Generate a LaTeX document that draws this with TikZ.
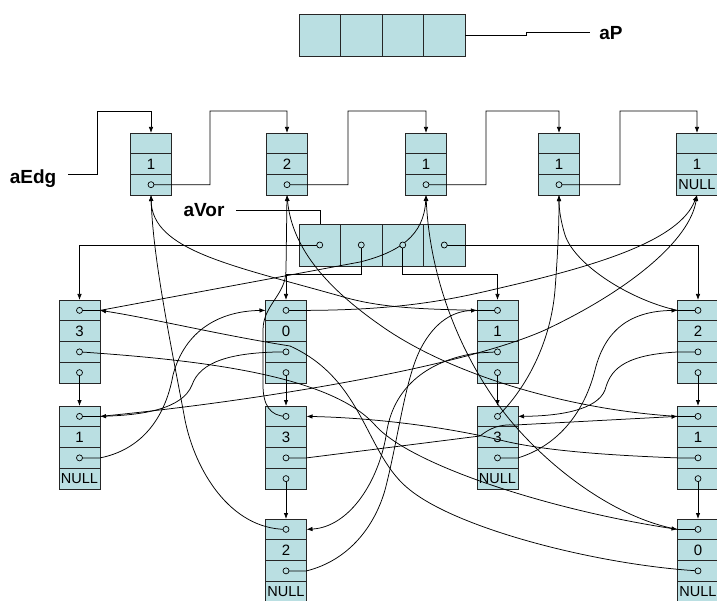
\documentclass[tikz,border=0pt]{standalone}
\usepackage{fontspec}
\setmainfont{Liberation Sans}
\usetikzlibrary{arrows.meta}
\definecolor{cellfill}{RGB}{186,223,226}
\tikzset{
 cell/.style={draw=black!85, fill=cellfill, minimum width=41pt, minimum height=20.75pt, inner sep=0pt, outer sep=0pt, font=\fontsize{15}{15}\selectfont, line width=0.8pt},
 ecell/.style={cell, minimum height=20.67pt},
 acell/.style={cell, minimum width=41.5pt, minimum height=42pt},
 ptr/.style={circle, draw=black, fill=cellfill, inner sep=0pt, minimum size=6pt, line width=0.7pt},
 link/.style={draw=black, line width=0.75pt},
 arr/.style={link, -{Latex[length=6pt,width=4.5pt]}},
 lbl/.style={font=\fontsize{19}{19}\selectfont\bfseries, inner sep=0pt},
 nulltxt/.style={font=\fontsize{14.5}{14.5}\selectfont},
}
\newcommand\adjnode[5]{%
 \node[cell,anchor=north] (#1-1) at (#2,#3) {};
 \node[cell,anchor=north] (#1-2) at (#1-1.south) {#4};
 \node[cell,anchor=north] (#1-3) at (#1-2.south) {};
 \node[cell,anchor=north,nulltxt] (#1-4) at (#1-3.south) {#5};
}
\newcommand\edgnode[4]{%
 \node[ecell,anchor=north] (#1-1) at (#2,133) {};
 \node[ecell,anchor=north] (#1-2) at (#1-1.south) {#3};
 \node[ecell,anchor=north,nulltxt] (#1-3) at (#1-2.south) {#4};
}
\begin{document}
\begin{tikzpicture}[x=1pt,y=-1pt]
\useasboundingbox (0,0) rectangle (717,601);
\clip (0,0) rectangle (717,601);
\fill[white] (0,0) rectangle (717,601);

% aP array
\node[acell,anchor=north west] (p1) at (299,14) {};
\node[acell,anchor=west] (p2) at (p1.east) {};
\node[acell,anchor=west] (p3) at (p2.east) {};
\node[acell,anchor=west] (p4) at (p3.east) {};
\node[lbl] (laP) at (611,33) {aP};
\draw[link] (p4.east) -- (526,35) -- (526,32) -- (590,32);

% edge list
\edgnode{e1}{151}{1}{}
\edgnode{e2}{287}{2}{}
\edgnode{e3}{426}{1}{}
\edgnode{e4}{559}{1}{}
\edgnode{e5}{697}{1}{NULL}
\node[lbl] (lEdg) at (33,179) {aEdg};
\coordinate (es) at (68,174);
\draw[arr] (es) -- (97,174) -- (97,111) -| (e1-1.north);
\draw[arr] (e1-3.center) -- (210,184.7) -- (210,111) -| (e2-1.north);
\draw[arr] (e2-3.center) -- (348,184.7) -- (348,111) -| (e3-1.north);
\draw[arr] (e3-3.center) -- (486,184.7) -- (486,111) -| (e4-1.north);
\draw[arr] (e4-3.center) -- (620,184.7) -- (620,111) -| (e5-1.north);

% aVor array
\node[acell,anchor=north west] (v1) at (299,224) {};
\node[acell,anchor=west] (v2) at (v1.east) {};
\node[acell,anchor=west] (v3) at (v2.east) {};
\node[acell,anchor=west] (v4) at (v3.east) {};
\node[lbl] (lVor) at (204,210) {aVor};
\draw[link] (236,210) -- (320,210) -- (320,224);

% adjacency nodes
\adjnode{a00}{79.5}{300}{3}{}
\adjnode{a01}{79.5}{406}{1}{NULL}
\adjnode{a10}{286}{300}{0}{}
\adjnode{a11}{286}{406}{3}{}
\adjnode{a12}{286}{519}{2}{NULL}
\adjnode{a20}{497.5}{300}{1}{}
\adjnode{a21}{497.5}{406}{3}{NULL}
\adjnode{a30}{698}{300}{2}{}
\adjnode{a31}{698}{406}{1}{}
\adjnode{a32}{698}{519}{0}{NULL}

% heads of lists
\draw[arr] (v1.center) -| (a00-1.north);
\draw[arr] (v2.center) -- (361.25,274) -| (a10-1.north);
\draw[arr] (v3.center) -- (402.75,274) -| (a20-1.north);
\draw[arr] (v4.center) -| (a30-1.north);

% next pointers
\draw[arr] (a00-4.center) -- (a01-1.north);
\draw[arr] (a10-4.center) -- (a11-1.north);
\draw[arr] (a11-4.center) -- (a12-1.north);
\draw[arr] (a20-4.center) -- (a21-1.north);
\draw[arr] (a30-4.center) -- (a31-1.north);
\draw[arr] (a31-4.center) -- (a32-1.north);

% pointers to edges
\draw[arr] (a12-1.center) .. controls (230,529) and (195,470) .. (185,420) .. controls (172,350) and (153,260) .. (e1-3.south);
\draw[arr] (a20-1.center) -- (477,310.4) .. controls (420,309) and (380,308) .. (340,296) .. controls (230,265) and (152,250) .. (e1-3.south);
\draw[arr] (a11-1.center) .. controls (270,416) and (263,405) .. (263,385) -- (263,330) .. controls (263,305) and (286,295) .. (286,270) -- (e2-3.south);
\draw[arr] (a31-1.center) -- (677.5,416.4) .. controls (570,410) and (450,375) .. (380,325) .. controls (330,290) and (292,250) .. (e2-3.south);
\draw[arr] (a00-1.center) -- (100,310.4) -- (360,262) .. controls (400,252) and (424,235) .. (e3-3.south);
\draw[arr] (a32-1.center) -- (677.5,529.4) .. controls (600,515) and (525,445) .. (495,400) .. controls (460,350) and (430,280) .. (e3-3.south);
\draw[arr] (a21-1.center) .. controls (520,395) and (550,350) .. (555,290) .. controls (558,250) and (559,225) .. (e4-3.south);
\draw[arr] (a30-1.center) -- (677.5,310.4) .. controls (630,300) and (575,265) .. (565,235) .. controls (561,222) and (559,210) .. (e4-3.south);
\draw[arr] (a01-1.center) -- (100,416.4) .. controls (250,402) and (460,368) .. (545,330) .. controls (630,290) and (690,240) .. (e5-3.south);
\draw[arr] (a10-1.center) -- (306.5,310.4) .. controls (400,310) and (450,300) .. (500,288) .. controls (600,265) and (680,240) .. (e5-3.south);

% pointers to twin nodes
\draw[arr] (a00-3.center) .. controls (200,360) and (330,375) .. (375,425) .. controls (410,465) and (550,510) .. (a32-1.west);
\draw[arr] (a32-3.center) .. controls (600,565) and (460,530) .. (410,490) .. controls (365,455) and (365,380) .. (290,346) .. controls (220,335) and (150,318) .. (a00-1.east);
\draw[arr] (a01-3.center) -- (100,457.9) .. controls (140,450) and (165,420) .. (173,375) .. controls (185,330) and (220,311) .. (a10-1.west);
\draw[arr] (a10-3.center) .. controls (230,352) and (200,362) .. (192,385) .. controls (182,410) and (140,415) .. (a01-1.east);
\draw[arr] (a11-3.center) -- (306.5,457.9) -- (480,436) .. controls (490,428) and (500,424) .. (515,425) -- (a31-1.west);
\draw[arr] (a31-3.center) -- (677.5,457.9) .. controls (600,455) and (540,450) .. (500,440) .. controls (450,428) and (380,418) .. (a11-1.east);
\draw[arr] (a12-3.center) -- (306.5,570.9) .. controls (350,560) and (375,525) .. (385,490) .. controls (398,440) and (405,380) .. (420,350) .. controls (435,320) and (455,311) .. (a20-1.west);
\draw[arr] (a20-3.center) -- (477,353) .. controls (430,360) and (395,385) .. (387,430) .. controls (380,480) and (350,527) .. (a12-1.east);
\draw[arr] (a21-3.center) -- (518,457.9) .. controls (560,445) and (585,410) .. (595,370) .. controls (605,330) and (630,311) .. (a30-1.west);
\draw[arr] (a30-3.center) -- (677.5,352) .. controls (620,355) and (610,372) .. (605,390) .. controls (597,410) and (560,416) .. (a21-1.east);

% pointer circles
\foreach \n in {e1,e2,e3,e4} {\node[ptr] at (\n-3) {};}
\foreach \n in {v1,v2,v3,v4} {\node[ptr] at (\n) {};}
\foreach \n in {a00,a01,a10,a11,a12,a20,a21,a30,a31,a32} {
  \node[ptr] at (\n-1) {};
  \node[ptr] at (\n-3) {};
}
\foreach \n in {a00,a10,a11,a20,a30,a31} {\node[ptr] at (\n-4) {};}
\end{tikzpicture}
\end{document}
